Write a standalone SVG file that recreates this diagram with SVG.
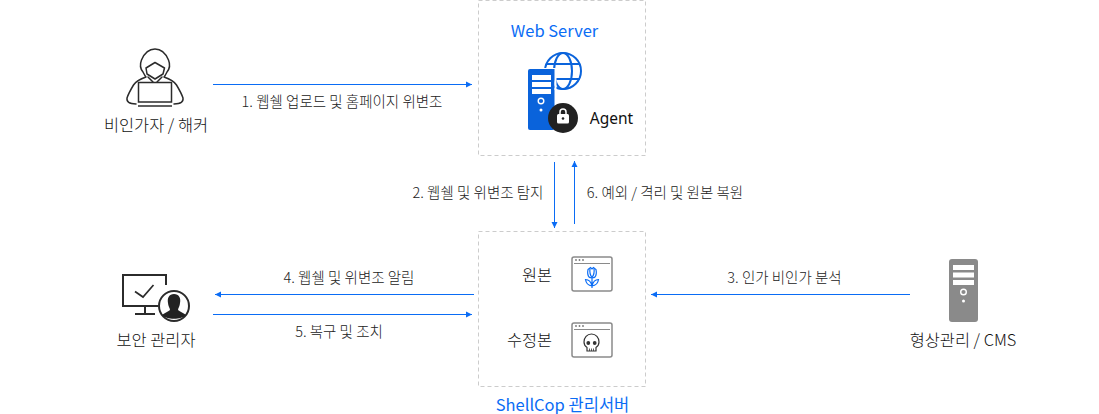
<svg xmlns="http://www.w3.org/2000/svg" width="1099" height="414" viewBox="0 0 1099 414">
<defs>
<marker id="ah" markerUnits="userSpaceOnUse" markerWidth="7" markerHeight="7" refX="6" refY="3.5" orient="auto"><path d="M0 0.500L6 3.500L0 6.500z" fill="#0a6cf5"/></marker>
</defs>
<style>
text{font-family:"Noto Sans CJK KR","Noto Sans",sans-serif;fill:#111;font-weight:300}
.t{font-size:16.4px}
.l{font-size:14.5px;fill:#222}
.b{fill:#0a6cf5;font-size:16.500px;font-weight:400}
.box{fill:none;stroke:#ccc;stroke-width:1;stroke-dasharray:4 3}
.c{fill:none;stroke:#0a6cf5;stroke-width:1;marker-end:url(#ah)}
.k{fill:none;stroke:#2b2b2b;stroke-width:1.500;stroke-linejoin:round;stroke-linecap:round}
.w{fill:#fff;stroke:#8a8a8a;stroke-width:1.500}
</style>
<g id="connectors">
<path class="c" d="M213 84.500H472"/>
<path class="c" d="M554.500 162V228"/>
<path class="c" d="M574.500 224V161"/>
<path class="c" d="M474 294.500H215"/>
<path class="c" d="M213 314.500H472"/>
<path class="c" d="M910 294.500H651"/>
</g>
<g id="labels">
<text class="l" x="342" y="107" text-anchor="middle">1. 웹쉘 업로드 및 홈페이지 위변조</text>
<text class="l" x="478" y="198" text-anchor="middle">2. 웹쉘 및 위변조 탐지</text>
<text class="l" x="665" y="198" text-anchor="middle">6. 예외 / 격리 및 원본 복원</text>
<text class="l" x="349" y="283" text-anchor="middle">4. 웹쉘 및 위변조 알림</text>
<text class="l" x="339" y="337" text-anchor="middle">5. 복구 및 조치</text>
<text class="l" x="784.500" y="283" text-anchor="middle">3. 인가 비인가 분석</text>
</g>
<g id="hacker">
<path class="k" d="M155 49C148 49 144 54 141.500 60C139.500 65 140.500 69 143 72C144 74 145 76 146 77C140 79 136 81 133.500 85C130.500 90 128 95 127 98C126.500 102 129 103.500 136 104M155 49C162 49 166 54 168.500 60C170.500 65 169.500 69 167 72C166 74 165 76 164 77C170 79 174 81 176.500 85C179.500 90 182 95 183 98C183.500 102 181 103.500 174 104"/>
<path class="k" d="M146 68L155 62.500L164.500 68L163 74L155 79L147 74Z"/>
<path class="k" d="M148 77L153 82M162 77L157 82"/>
<rect x="138.500" y="82.500" width="33" height="19.500" fill="#fff" stroke="#2b2b2b" stroke-width="1.500"/>
<path d="M138 106H172" stroke="#2b2b2b" stroke-width="1.600"/>
<text class="t" x="156" y="131" text-anchor="middle">비인가자 / 해커</text>
</g>
<g id="web-server">
<rect class="box" x="478.500" y="0.500" width="167" height="155"/>
<text class="b" x="554.500" y="37" text-anchor="middle">Web Server</text>
<g fill="none" stroke="#0a63db" stroke-width="2">
<circle cx="563" cy="71" r="18"/>
<ellipse cx="563" cy="71" rx="9" ry="18"/>
<path d="M546 64H580M546 79H580"/>
</g>
<rect x="528" y="69" width="26.500" height="61" rx="2" fill="#0a63db"/>
<path d="M555.500 68V90" stroke="#fff" stroke-width="2"/>
<path d="M528 68.500H556" stroke="#fff" stroke-width="1"/>
<rect x="532" y="75" width="19" height="5" fill="#fff"/>
<rect x="532" y="82" width="19" height="5" fill="#fff"/>
<rect x="532" y="89" width="19" height="5" fill="#fff"/>
<circle cx="541" cy="101" r="2.800" fill="none" stroke="#fff" stroke-width="1.400"/>
<circle cx="541" cy="110" r="1.500" fill="#fff"/>
<circle cx="563" cy="118" r="15" fill="#222"/>
<rect x="557" y="114" width="12" height="9.500" rx="1.500" fill="#fff"/>
<path d="M560 114V112a3 3 0 0 1 6 0V114" fill="none" stroke="#fff" stroke-width="1.500"/>
<circle cx="563" cy="118.500" r="1.300" fill="#222"/>
<text x="611.500" y="124" text-anchor="middle" font-size="15.500" style="font-family:'Noto Sans',sans-serif;font-weight:400">Agent</text>
</g>
<g id="shellcop">
<rect class="box" x="478.500" y="231.500" width="167" height="155"/>
<text class="t" x="537" y="281" text-anchor="middle">원본</text>
<text class="t" x="529.500" y="346" text-anchor="middle">수정본</text>
<rect class="w" x="572" y="257" width="40" height="34" rx="2"/>
<path d="M574 263.500H610" stroke="#8a8a8a" stroke-width="1"/>
<circle cx="576" cy="260" r="0.900" fill="#777"/><circle cx="579.500" cy="260" r="0.900" fill="#777"/><circle cx="583" cy="260" r="0.900" fill="#777"/>
<g fill="none" stroke="#0a6cf5" stroke-width="1.200">
<path d="M588 269.500L590.500 267.500L592 269L593.500 267.500L596 269.500C596.500 272 596.500 275 595 277C594 278 590 278 589 277C587.500 275 587.500 272 588 269.500Z"/>
<path d="M590 268.500C589.500 272 590 275 592 277.500C594 275 594.500 272 594 268.500"/>
<path d="M592 278V288M585.500 279.500C588 279.500 591 281.500 592 286C588 285.500 586 283 585.500 279.500ZM598.500 279.500C596 279.500 593 281.500 592 286C596 285.500 598 283 598.500 279.500Z"/>
</g>
<rect class="w" x="572" y="323" width="40" height="34" rx="2"/>
<path d="M574 329.500H610" stroke="#8a8a8a" stroke-width="1"/>
<circle cx="576" cy="326" r="0.900" fill="#777"/><circle cx="579.500" cy="326" r="0.900" fill="#777"/><circle cx="583" cy="326" r="0.900" fill="#777"/>
<path d="M591.500 334C587 334 584 337.500 584 342C584 345 585.500 346.500 587 347.500V351H596V347.500C597.500 346.500 599 345 599 342C599 337.500 596 334 591.500 334Z" fill="none" stroke="#333" stroke-width="1.200"/>
<circle cx="588.300" cy="343" r="1.900" fill="#333"/>
<circle cx="594.700" cy="343" r="1.900" fill="#333"/>
<path d="M589.500 351V348.500M591.500 351V348.500M593.500 351V348.500" stroke="#333" stroke-width="0.800"/>
<text class="b" x="562.500" y="411" text-anchor="middle">ShellCop 관리서버</text>
</g>
<g id="admin">
<path d="M166 285V275H123V306H158" fill="none" stroke="#2b2b2b" stroke-width="2"/>
<path d="M145 306V314M135 314H155" stroke="#2b2b2b" stroke-width="2" fill="none"/>
<path d="M135 291.500L143 297L153.500 285" fill="none" stroke="#2b2b2b" stroke-width="1.700"/>
<circle cx="174" cy="306" r="15" fill="#fff" stroke="#2b2b2b" stroke-width="2"/>
<path d="M174 294C169 294 167 298 168 303C168 306 170 308 170 310C168 312 164 313 162 315C166 320 182 320 186 315C184 313 180 312 178 310C178 308 180 306 180 303C181 298 179 294 174 294Z" fill="#222"/>
<text class="t" x="156" y="346" text-anchor="middle">보안 관리자</text>
</g>
<g id="cms">
<rect x="949" y="259" width="29" height="63" rx="3" fill="#8a8a8a"/>
<rect x="953" y="265" width="21" height="5" fill="#fff"/>
<rect x="953" y="272.500" width="21" height="5" fill="#fff"/>
<rect x="953" y="280" width="21" height="5" fill="#fff"/>
<circle cx="963.500" cy="292" r="2.800" fill="none" stroke="#fff" stroke-width="1.400"/>
<circle cx="963.500" cy="301" r="1.500" fill="#fff"/>
<text class="t" x="963" y="346" text-anchor="middle">형상관리 / CMS</text>
</g>
</svg>
